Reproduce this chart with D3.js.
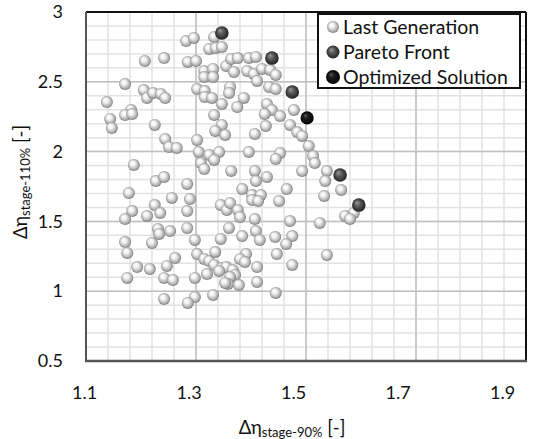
<!DOCTYPE html>
<html>
<head>
<meta charset="utf-8">
<script src="https://cdn.jsdelivr.net/npm/d3@7"></script>
<style>
  body { margin: 0; background: #fff; }
  svg { display: block; font-family: Lato, "Open Sans", sans-serif; }
</style>
</head>
<body>
<svg id="chart" width="547" height="439"></svg>
<script>
// ---------------- data ----------------
const xTicks = [1.1, 1.3, 1.5, 1.7, 1.9];
const yTicks = [0.5, 1, 1.5, 2, 2.5, 3];
const legendLabels = ["Last Generation", "Pareto Front", "Optimized Solution"];

const lastGeneration = [
  [1.282,2.792],[1.296,2.814],[1.333,2.821],[1.324,2.735],[1.336,2.742],[1.347,2.749],
  [1.207,2.649],[1.242,2.670],[1.285,2.642],[1.300,2.649],[1.315,2.577],[1.331,2.592],
  [1.315,2.534],[1.331,2.534],[1.355,2.613],[1.364,2.663],[1.376,2.670],[1.396,2.670],
  [1.409,2.678],[1.369,2.570],[1.393,2.577],[1.405,2.556],[1.420,2.592],[1.435,2.585],
  [1.445,2.549],[1.411,2.506],[1.171,2.484],[1.205,2.441],[1.211,2.384],[1.222,2.420],
  [1.236,2.413],[1.244,2.384],[1.302,2.448],[1.316,2.434],[1.316,2.391],[1.329,2.384],
  [1.362,2.463],[1.360,2.420],[1.387,2.384],[1.433,2.463],[1.445,2.448],[1.138,2.355],
  [1.182,2.298],[1.171,2.262],[1.184,2.269],[1.144,2.234],[1.147,2.169],[1.225,2.191],
  [1.347,2.341],[1.375,2.319],[1.429,2.341],[1.438,2.298],[1.425,2.269],[1.453,2.255],
  [1.478,2.298],[1.333,2.262],[1.347,2.191],[1.335,2.148],[1.353,2.119],[1.407,2.126],
  [1.427,2.183],[1.471,2.191],[1.484,2.140],[1.493,2.112],[1.505,2.040],[1.244,2.090],
  [1.251,2.033],[1.265,2.026],[1.302,2.083],[1.305,1.997],[1.324,1.976],[1.342,1.997],
  [1.309,1.918],[1.333,1.940],[1.315,1.875],[1.396,1.997],[1.453,1.990],[1.445,1.947],
  [1.513,1.968],[1.516,1.918],[1.187,1.904],[1.364,1.861],[1.407,1.861],[1.429,1.818],
  [1.409,1.789],[1.493,1.861],[1.538,1.861],[1.535,1.789],[1.564,1.725],[1.533,1.682],
  [1.284,1.768],[1.384,1.732],[1.402,1.689],[1.418,1.689],[1.402,1.653],[1.413,1.646],
  [1.465,1.732],[1.451,1.646],[1.587,1.560],[1.571,1.539],[1.580,1.517],[1.227,1.789],
  [1.242,1.818],[1.178,1.703],[1.256,1.668],[1.289,1.660],[1.225,1.617],[1.235,1.560],
  [1.184,1.574],[1.171,1.517],[1.211,1.539],[1.284,1.574],[1.345,1.617],[1.356,1.582],
  [1.362,1.632],[1.376,1.582],[1.380,1.531],[1.407,1.517],[1.471,1.503],[1.525,1.489],
  [1.231,1.446],[1.233,1.410],[1.253,1.431],[1.284,1.453],[1.360,1.453],[1.171,1.352],
  [1.175,1.274],[1.220,1.345],[1.298,1.367],[1.345,1.374],[1.384,1.395],[1.409,1.431],
  [1.416,1.367],[1.444,1.388],[1.475,1.395],[1.464,1.338],[1.262,1.238],[1.302,1.266],
  [1.315,1.231],[1.324,1.216],[1.335,1.281],[1.333,1.188],[1.347,1.166],[1.355,1.173],
  [1.367,1.152],[1.371,1.116],[1.362,1.102],[1.358,1.052],[1.378,1.044],[1.391,1.266],
  [1.380,1.231],[1.389,1.209],[1.447,1.266],[1.538,1.259],[1.411,1.173],[1.475,1.188],
  [1.193,1.173],[1.216,1.159],[1.247,1.181],[1.175,1.095],[1.242,1.095],[1.258,1.080],
  [1.298,1.095],[1.320,1.123],[1.411,1.066],[1.242,0.944],[1.298,0.958],[1.285,0.916],
  [1.331,0.973],[1.445,0.987],[1.353,1.059],[1.342,1.145]
];
const paretoFront = [[1.347,2.850],[1.438,2.670],[1.475,2.427],[1.562,1.832],[1.596,1.617]];
const optimizedSolution = [[1.502,2.241]];

// ---------------- layout ----------------
const svg = d3.select("#chart");
const L = 86, R = 526, T = 12, B = 361;
const x = d3.scaleLinear().domain([1.1, 1.9]).range([L, R]);
const y = d3.scaleLinear().domain([0.5, 3]).range([B, T]);
// tick label placement as in the reference picture
const xLab = d3.scaleLinear().domain([1.1, 1.9]).range([84, 502]);

// gradients
const defs = svg.append("defs");
function grad(id, stops) {
  const g = defs.append("radialGradient").attr("id", id)
    .attr("cx", "0.5").attr("cy", "0.5").attr("r", "0.55")
    .attr("fx", "0.35").attr("fy", "0.3");
  stops.forEach(s => g.append("stop").attr("offset", s[0]).attr("stop-color", s[1]));
}
grad("gLast", [["0%", "#ffffff"], ["35%", "#f2f2f2"], ["75%", "#b0b0b0"], ["100%", "#666666"]]);
grad("gPareto", [["0%", "#9c9c9c"], ["40%", "#5a5a5a"], ["80%", "#303030"], ["100%", "#1a1a1a"]]);
grad("gOpt", [["0%", "#5a5a5a"], ["35%", "#1c1c1c"], ["100%", "#000000"]]);

// grid
const g = svg.append("g");
const xMinor = d3.range(1.1, 1.9001, 0.04);
const yMinor = d3.range(0.5, 3.0001, 0.1);
g.selectAll(".vmin").data(xMinor).join("line")
  .attr("x1", d => x(d)).attr("x2", d => x(d)).attr("y1", T).attr("y2", B)
  .attr("stroke", "#e2e2e2").attr("stroke-width", 1.5);
g.selectAll(".hmin").data(yMinor).join("line")
  .attr("y1", d => y(d)).attr("y2", d => y(d)).attr("x1", L).attr("x2", R)
  .attr("stroke", "#e2e2e2").attr("stroke-width", 1.5);
g.selectAll(".vmaj").data(xTicks).join("line")
  .attr("x1", d => x(d)).attr("x2", d => x(d)).attr("y1", T).attr("y2", B)
  .attr("stroke", "#c0c0c0").attr("stroke-width", 1.5);
g.selectAll(".hmaj").data(yTicks).join("line")
  .attr("y1", d => y(d)).attr("y2", d => y(d)).attr("x1", L).attr("x2", R)
  .attr("stroke", "#c0c0c0").attr("stroke-width", 1.5);

// frame
svg.append("line").attr("x1", L).attr("x2", R).attr("y1", T).attr("y2", T).attr("stroke", "#111").attr("stroke-width", 2);
svg.append("line").attr("x1", R).attr("x2", R).attr("y1", T).attr("y2", B).attr("stroke", "#111").attr("stroke-width", 2);
svg.append("line").attr("x1", L).attr("x2", L).attr("y1", T).attr("y2", B).attr("stroke", "#555").attr("stroke-width", 2);
svg.append("line").attr("x1", L - 1).attr("x2", R + 1).attr("y1", B).attr("y2", B).attr("stroke", "#555").attr("stroke-width", 2.5);

// axes (labels only)
const xAxis = svg.append("g").attr("transform", `translate(0,${B + 22})`)
  .call(d3.axisBottom(xLab).tickValues(xTicks).tickSize(0).tickFormat(d3.format(".1f")));
const yAxis = svg.append("g").attr("transform", `translate(${L - 20},0)`)
  .call(d3.axisLeft(y).tickValues(yTicks).tickSize(0).tickFormat(d => d3.format("")(d)));
[xAxis, yAxis].forEach(a => {
  a.select(".domain").remove();
  a.selectAll("text").attr("font-family", "Lato, sans-serif").attr("font-size", 18).attr("fill", "#111");
});

// points
function drawPts(data, r, fill, cls) {
  svg.append("g").selectAll("circle." + cls).data(data).join("circle")
    .attr("class", cls)
    .attr("cx", d => x(d[0])).attr("cy", d => y(d[1])).attr("r", r)
    .attr("fill", `url(#${fill})`);
}
drawPts(lastGeneration, 6, "gLast", "lg");
drawPts(paretoFront, 6.8, "gPareto", "pf");
drawPts(optimizedSolution, 6.6, "gOpt", "os");

// legend
const lg = svg.append("g");
lg.append("rect").attr("x", 318).attr("y", 14).attr("width", 202).attr("height", 74)
  .attr("fill", "#fff").attr("stroke", "#111").attr("stroke-width", 2);
const legR = [6, 6.5, 7], legF = ["gLast", "gPareto", "gOpt"], legY = [27, 52, 77];
legendLabels.forEach((t, i) => {
  lg.append("circle").attr("cx", 333).attr("cy", legY[i]).attr("r", legR[i]).attr("fill", `url(#${legF[i]})`);
  lg.append("text").attr("x", 343).attr("y", legY[i] + 7).text(t)
    .attr("font-size", 19.5).attr("fill", "#111");
});

// axis titles
const xt = svg.append("text").attr("x", 292).attr("y", 434).attr("text-anchor", "middle")
  .attr("font-size", 18.5).attr("fill", "#111");
xt.append("tspan").text("Δη");
xt.append("tspan").text("stage-90%").attr("font-size", 13).attr("dy", 3);
xt.append("tspan").text(" [-]").attr("dy", -3);

const yt = svg.append("text").attr("transform", "translate(27,182) rotate(-90)").attr("text-anchor", "middle")
  .attr("font-size", 18.5).attr("fill", "#111");
yt.append("tspan").text("Δη");
yt.append("tspan").text("stage-110%").attr("font-size", 13).attr("dy", 3);
yt.append("tspan").text(" [-]").attr("dy", -3);
</script>
</body>
</html>
